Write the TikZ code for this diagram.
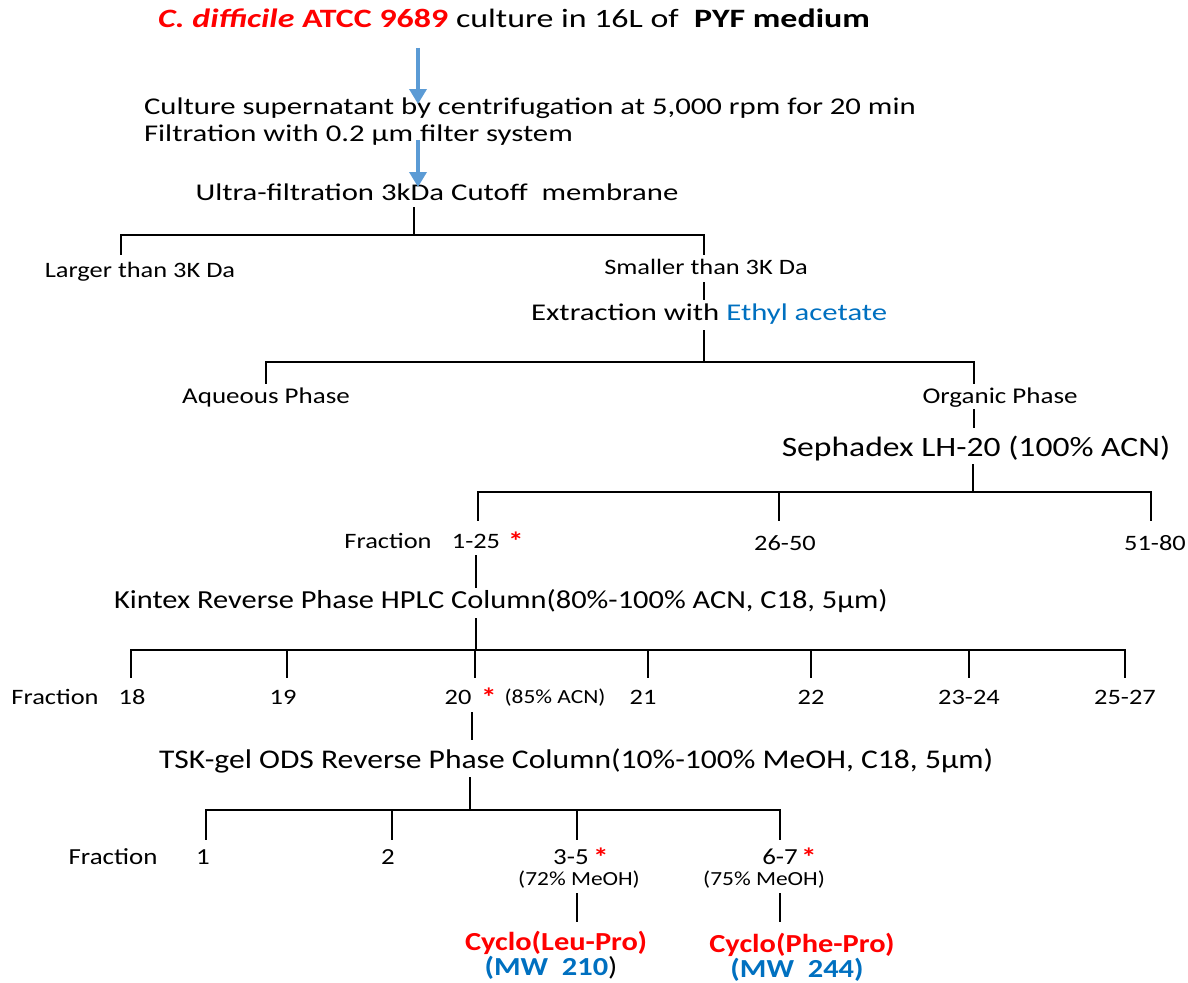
\documentclass[tikz,border=0pt]{standalone}
\usepackage{fontspec}
\setmainfont[FakeStretch=1.2]{Carlito}
\newfontfamily\widefont[FakeStretch=1.28]{Carlito}
\newfontfamily\condfont[FakeStretch=1.17]{Carlito}
\usetikzlibrary{arrows.meta}
\definecolor{arrowblue}{RGB}{91,155,213}
\definecolor{textblue}{RGB}{0,112,192}
\begin{document}
\begin{tikzpicture}[x=1pt,y=-1pt,line width=2.2pt,
    lbl/.style={anchor=base,inner sep=0pt,font=\fontsize{22}{26}\selectfont},
    stage/.style={anchor=base,inner sep=0pt,font=\widefont\fontsize{24}{28}\selectfont},
    cond/.style={anchor=base,inner sep=0pt,font=\condfont\fontsize{23}{27}\selectfont},
    small/.style={anchor=base,inner sep=0pt,font=\condfont\fontsize{20}{24}\selectfont},
    product/.style={anchor=base,inner sep=0pt,font=\condfont\bfseries\fontsize{26}{30}\selectfont},
    redstar/.style={anchor=base,inner sep=0pt,text=red,font=\bfseries\fontsize{26}{30}\selectfont},
    flow/.style={arrowblue,line width=3.5pt,-{Triangle[width=17pt,length=15pt]}}]
  \useasboundingbox (0,0) rectangle (1188,982);
  % top
  %labels
  \node[at={(514,28)},stage,font=\widefont\fontsize{26.5}{31}\selectfont] (culture)
    {{\color{red}\textbf{\textit{C. difficile}} \textbf{ATCC 9689}} culture in 16L of \ \textbf{PYF medium}};
  \node[at={(143,114)},stage,anchor=base west] (spin) {Culture supernatant by centrifugation at 5,000 rpm for 20 min};
  \node[at={(143,141)},stage,anchor=base west] (filter) {Filtration with 0.2 µm filter system};
  \node[at={(437,200)},stage] (ultra) {Ultra-filtration 3kDa Cutoff \ membrane};
  %edges
  \coordinate (a1s) at (418,48);
  \coordinate (a1e) at (418,104);
  \coordinate (a2s) at (418,140);
  \coordinate (a2e) at (418,187);
  \draw[flow] (a1s) -- (a1e);
  \draw[flow] (a2s) -- (a2e);

  % ultra-filtration split
  %edges
  \coordinate (u0) at (414,207);
  \coordinate (u1) at (414,235);
  \coordinate (uL) at (121,255);
  \coordinate (uR) at (704,255);
  \draw (u0) -- (u1);
  \draw (u1) -| (uL);
  \draw (u1) -| (uR);
  %labels
  \node[at={(140,277)},lbl] (larger) {Larger than 3K Da};
  \node[at={(706,274)},lbl] (smaller) {Smaller than 3K Da};
  \node[at={(530,320)},stage,anchor=base west] (extract) {Extraction with {\color{textblue}Ethyl acetate}};
  \coordinate (s0) at (704,282);
  \coordinate (s1) at (704,300);
  \draw (s0) -- (s1);

  % extraction split
  %edges
  \coordinate (e0) at (704,330);
  \coordinate (e1) at (704,362);
  \coordinate (eL) at (266,384);
  \coordinate (eR) at (974,384);
  \draw (e0) -- (e1);
  \draw (e1) -| (eL);
  \draw (e1) -| (eR);
  %labels
  \node[at={(266,403)},lbl,font=\fontsize{22.5}{26}\selectfont] (aqueous) {Aqueous Phase};
  \node[at={(1000,403)},lbl,font=\fontsize{22.5}{26}\selectfont] (organic) {Organic Phase};
  \node[at={(976,456)},lbl,font=\fontsize{28}{33}\selectfont] (sephadex) {Sephadex LH-20 (100\% ACN)};
  \coordinate (o0) at (974,409);
  \coordinate (o1) at (974,428);
  \draw (o0) -- (o1);

  % sephadex split
  %edges
  \coordinate (x0) at (973,464);
  \coordinate (x1) at (973,492);
  \draw (x0) -- (x1);
  \foreach \fx/\name in {478/xa,779/xb,1151/xc}{
    \coordinate (\name) at (\fx,521);
    \draw (x1) -| (\name);
  }
  %labels
  \node[at={(388,548)},lbl] (fracA) {Fraction};
  \node[at={(476,548)},lbl] (f1) {1-25};
  \node[at={(516,550)},redstar] (f1star) {*};
  \node[at={(785,550)},lbl] (f2) {26-50};
  \node[at={(1155,550)},lbl] (f3) {51-80};
  \coordinate (k0) at (476,555);
  \coordinate (k1) at (476,588);
  \draw (k0) -- (k1);
  \node[at={(113,608)},cond,anchor=base west,font=\condfont\fontsize{26}{30}\selectfont] (kintex) {Kintex Reverse Phase HPLC Column(80\%-100\% ACN, C18, 5µm)};

  % kintex split
  %edges
  \coordinate (h0) at (476,618);
  \coordinate (h1) at (476,650);
  \draw (h0) -- (h1);
  \foreach \fx/\name in {131/h18,287/h19,475/h20,648/h21,811/h22,969/h23,1125/h25}{
    \coordinate (\name) at (\fx,678);
    \draw (h1) -| (\name);
  }
  %labels
  \node[at={(55,704)},lbl] (fracB) {Fraction};
  \node[at={(132,704)},lbl] (n18) {18};
  \node[at={(283,704)},lbl] (n19) {19};
  \node[at={(458,704)},lbl] (n20) {20};
  \node[at={(489,706)},redstar] (n20star) {*};
  \node[at={(555,703)},small] (n20acn) {(85\% ACN)};
  \node[at={(643,704)},lbl] (n21) {21};
  \node[at={(811,704)},lbl] (n22) {22};
  \node[at={(969,704)},lbl] (n23) {23-24};
  \node[at={(1125,704)},lbl] (n25) {25-27};
  \coordinate (t0) at (472,712);
  \coordinate (t1) at (472,740);
  \draw (t0) -- (t1);
  \node[at={(158,768)},cond,anchor=base west,font=\condfont\fontsize{27}{31}\selectfont] (tsk) {TSK-gel ODS Reverse Phase Column(10\%-100\% MeOH, C18, 5µm)};

  % tsk split
  %edges
  \coordinate (g0) at (470,777);
  \coordinate (g1) at (470,810);
  \draw (g0) -- (g1);
  \foreach \fx/\name in {206/g1f,392/g2f,577/g35,780/g67}{
    \coordinate (\name) at (\fx,840);
    \draw (g1) -| (\name);
  }
  %labels
  \node[at={(113,864)},cond] (fracC) {Fraction};
  \node[at={(203,864)},cond] (m1) {1};
  \node[at={(388,864)},cond] (m2) {2};
  \node[at={(571,864)},cond] (m35) {3-5};
  \node[at={(601,866)},redstar] (m35star) {*};
  \node[at={(780,864)},cond] (m67) {6-7};
  \node[at={(809,866)},redstar] (m67star) {*};
  \node[at={(579,885)},small] (m35meoh) {(72\% MeOH)};
  \node[at={(764,885)},small] (m67meoh) {(75\% MeOH)};

  % products
  %edges
  \coordinate (p1a) at (577,893);
  \coordinate (p1b) at (577,922);
  \coordinate (p2a) at (780,893);
  \coordinate (p2b) at (780,922);
  \draw (p1a) -- (p1b);
  \draw (p2a) -- (p2b);
  %labels
  \node[at={(556,950)},product,text=red] (leupro) {Cyclo(Leu-Pro)};
  \node[at={(802,952)},product,text=red] (phepro) {Cyclo(Phe-Pro)};
  \node[at={(551,975)},product] (mw1) {{\color{textblue}(MW \ 210}\mdseries)};
  \node[at={(797,977)},product,text=textblue] (mw2) {(MW \ 244)};
\end{tikzpicture}
\end{document}
